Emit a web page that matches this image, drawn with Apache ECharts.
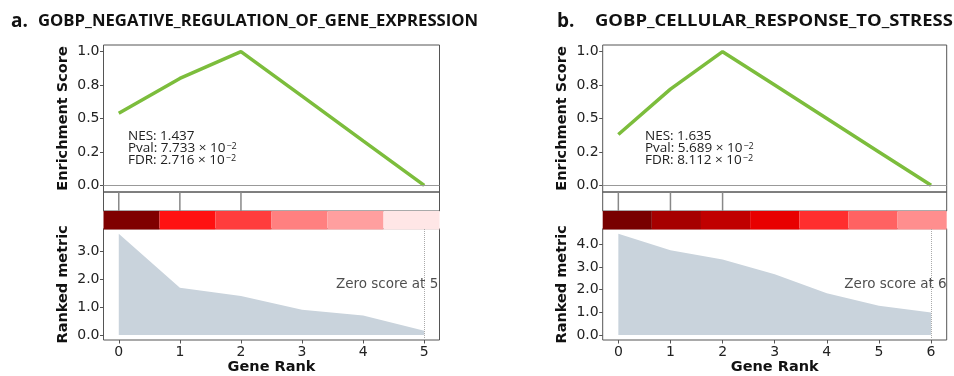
<!DOCTYPE html>
<html><head><meta charset="utf-8">
<script src="https://cdn.jsdelivr.net/npm/echarts@6/dist/echarts.min.js"></script>
<style>html,body{margin:0;padding:0;background:#fff}#c{width:954px;height:376px}</style>
</head><body><div id="c"></div>
<script>
// ---------- data ----------
const panelLabelA = 'a.';
const titleA = 'GOBP_NEGATIVE_REGULATION_OF_GENE_EXPRESSION';
const geneRankA = [0, 1, 2, 3, 4, 5];
const enrichmentA = [0.54, 0.80, 1.00, 0.667, 0.333, 0.00];
const hitsA = [0, 1, 2];
const rankedMetricA = [3.62, 1.69, 1.39, 0.90, 0.70, 0.15];
const heatColorsA = ['#7f0000', '#ff1111', '#ff3d3d', '#ff8080', '#ff9f9f', '#ffe6e6'];
const nesA = '1.437', pvalA = '7.733', fdrA = '2.716', expA = '\u22122';
const zeroScoreA = 5;
const rankTicksA = [0, 1, 2, 3, 4, 5];
const metricTicksA = [0, 1, 2, 3];
const metricTickLabelsA = ['0.0', '1.0', '2.0', '3.0'];

const panelLabelB = 'b.';
const titleB = 'GOBP_CELLULAR_RESPONSE_TO_STRESS';
const geneRankB = [0, 1, 2, 3, 4, 5, 6];
const enrichmentB = [0.38, 0.72, 1.00, 0.75, 0.50, 0.25, 0.00];
const hitsB = [0, 1, 2];
const rankedMetricB = [4.47, 3.74, 3.33, 2.68, 1.84, 1.29, 0.99];
const heatColorsB = ['#780000', '#a60000', '#c00000', '#e80000', '#ff2e2e', '#ff6262', '#ff8e8e'];
const nesB = '1.635', pvalB = '5.689', fdrB = '8.112', expB = '\u22122';
const zeroScoreB = 6;
const rankTicksB = [0, 1, 2, 3, 4, 5, 6];
const metricTicksB = [0, 1, 2, 3, 4];
const metricTickLabelsB = ['0.0', '1.0', '2.0', '3.0', '4.0'];

const esTicks = [0, 0.25, 0.5, 0.75, 1.0];
const esTickLabels = ['0.0', '0.2', '0.5', '0.8', '1.0'];

// ---------- layout / style ----------
const FRAME = '#555';
const GREEN = '#7cbd3c';
const FILL = '#c9d3dc';
const TICKFONT = 'DejaVu Sans';
const panels = [
  { label: panelLabelA, title: titleA, rank: geneRankA, es: enrichmentA, hits: hitsA, metric: rankedMetricA,
    heat: heatColorsA, nes: nesA, pval: pvalA, fdr: fdrA, exp: expA, zero: zeroScoreA,
    rankTicks: rankTicksA, mTicks: metricTicksA, mLabels: metricTickLabelsA,
    left: 103.5, width: 336, xmin: -0.25, xmax: 5.25, ymMin: -0.18, ymMax: 3.80,
    zeroPos: [5.23, 1.8], annX: 128, labelX: 11, titleX: 38, titleScale: 1 },
  { label: panelLabelB, title: titleB, rank: geneRankB, es: enrichmentB, hits: hitsB, metric: rankedMetricB,
    heat: heatColorsB, nes: nesB, pval: pvalB, fdr: fdrB, exp: expB, zero: zeroScoreB,
    rankTicks: rankTicksB, mTicks: metricTicksB, mLabels: metricTickLabelsB,
    left: 602.7, width: 344, xmin: -0.3, xmax: 6.3, ymMin: -0.22, ymMax: 4.69,
    zeroPos: [6.3, 2.24], annX: 645, labelX: 557, titleX: 595, titleScale: 1.105 }
];

const grid = [], xAxis = [], yAxis = [], series = [], graphic = [];
const labelStyle = { fontFamily: TICKFONT, fontSize: 14, color: '#222' };
const nameStyle = { fontFamily: TICKFONT, fontSize: 14.5, fontWeight: 'bold', color: '#111' };
const noLine = { show: false, onZero: false };

panels.forEach((p, k) => {
  const g = k * 4;
  grid.push(
    { left: p.left, top: 45, width: p.width, height: 147, show: true, borderColor: FRAME, borderWidth: 1 },
    { left: p.left, top: 192, width: p.width, height: 19, show: true, borderColor: FRAME, borderWidth: 1 },
    { left: p.left, top: 211, width: p.width, height: 18.5, show: false },
    { left: p.left, top: 228.7, width: p.width, height: 111.3, show: true, borderColor: FRAME, borderWidth: 1 }
  );
  const hiddenX = { type: 'value', min: p.xmin, max: p.xmax, axisLine: noLine, axisTick: { show: false },
    axisLabel: { show: false }, splitLine: { show: false } };
  xAxis.push(
    Object.assign({ gridIndex: g }, hiddenX),
    Object.assign({ gridIndex: g + 1 }, hiddenX),
    { gridIndex: g + 2, type: 'category', data: p.rank.map(String), boundaryGap: true, show: false },
    { gridIndex: g + 3, type: 'value', min: p.xmin, max: p.xmax, position: 'bottom',
      axisLine: noLine, splitLine: { show: false },
      axisTick: { show: true, length: 3.5, lineStyle: { color: FRAME }, customValues: p.rankTicks },
      axisLabel: Object.assign({ margin: 5, customValues: p.rankTicks, formatter: v => String(Math.round(v)) }, labelStyle),
      name: 'Gene Rank', nameLocation: 'middle', nameGap: 19, nameTextStyle: nameStyle }
  );
  yAxis.push(
    { gridIndex: g, type: 'value', min: -0.05, max: 1.05, position: 'left', axisLine: noLine, splitLine: { show: false },
      axisTick: { show: true, length: 3.5, lineStyle: { color: FRAME }, customValues: esTicks },
      axisLabel: Object.assign({ margin: 4, customValues: esTicks,
        formatter: v => { const i = esTicks.findIndex(t => Math.abs(t - v) < 1e-9); return i >= 0 ? esTickLabels[i] : ''; } }, labelStyle),
      name: 'Enrichment Score', nameLocation: 'middle', nameGap: 33, nameTextStyle: nameStyle },
    { gridIndex: g + 1, type: 'value', min: 0, max: 1, show: false },
    { gridIndex: g + 2, type: 'value', min: 0, max: 1, show: false },
    { gridIndex: g + 3, type: 'value', min: p.ymMin, max: p.ymMax, position: 'left', axisLine: noLine, splitLine: { show: false },
      axisTick: { show: true, length: 3.5, lineStyle: { color: FRAME }, customValues: p.mTicks },
      axisLabel: Object.assign({ margin: 4, customValues: p.mTicks,
        formatter: v => { const i = p.mTicks.findIndex(t => Math.abs(t - v) < 1e-9); return i >= 0 ? p.mLabels[i] : ''; } }, labelStyle),
      name: 'Ranked metric', nameLocation: 'middle', nameGap: 33, nameTextStyle: nameStyle }
  );
  series.push(
    { type: 'line', xAxisIndex: g, yAxisIndex: g, data: p.rank.map((x, i) => [x, p.es[i]]),
      symbol: 'none', lineStyle: { color: GREEN, width: 3.5 }, z: 3,
      markLine: { silent: true, symbol: 'none', label: { show: false }, lineStyle: { color: '#999', width: 1, type: 'solid' },
        data: [{ yAxis: 0 }] } },
    { type: 'bar', xAxisIndex: g + 1, yAxisIndex: g + 1, data: p.hits.map(h => [h, 1]),
      barWidth: 1.5, itemStyle: { color: '#888' } },
    { type: 'bar', xAxisIndex: g + 2, yAxisIndex: g + 2, barCategoryGap: 0, barGap: 0,
      data: p.rank.map((x, i) => ({ value: 1, itemStyle: { color: p.heat[i] } })) },
    { type: 'line', xAxisIndex: g + 3, yAxisIndex: g + 3, data: p.rank.map((x, i) => [x, p.metric[i]]),
      symbol: 'none', lineStyle: { width: 0 }, areaStyle: { color: FILL, opacity: 1 },
      markLine: { silent: true, symbol: 'none', label: { show: false },
        lineStyle: { color: '#aaa', width: 1, type: 'dotted' }, data: [{ xAxis: p.zero }] } },
    { type: 'scatter', xAxisIndex: g + 3, yAxisIndex: g + 3, symbolSize: 0, silent: true,
      data: [p.zeroPos],
      label: { show: true, position: 'left', distance: 0, formatter: 'Zero score at ' + p.zero,
        fontFamily: TICKFONT, fontSize: 13.5, color: '#222' } }
  );
  graphic.push(
    { type: 'text', left: p.labelX, top: 12, style: { text: p.label, font: 'bold 19px "Open Sans"', fill: '#111' } },
    { type: 'text', x: p.titleX, y: 13, scaleX: p.titleScale, style: { text: p.title, font: 'bold 16.7px "Open Sans"', fill: '#111' } },
    { type: 'text', left: p.annX, top: 129.5, style: {
        text: 'NES: ' + p.nes + '\nPval: ' + p.pval + ' \u00d7 10{sup|' + p.exp + '}\nFDR: ' + p.fdr + ' \u00d7 10{sup|' + p.exp + '}',
        font: '13.5px "Open Sans"', fill: '#222', lineHeight: 11.6,
        rich: { sup: { fontSize: 9, fontFamily: 'Open Sans', lineHeight: 11.6, verticalAlign: 'top', padding: [0, 0, 6, 1] } } } }
  );
});

const chart = echarts.init(document.getElementById('c'), null, { renderer: 'canvas' });
chart.setOption({ animation: false, grid, xAxis, yAxis, series, graphic });
</script></body></html>
